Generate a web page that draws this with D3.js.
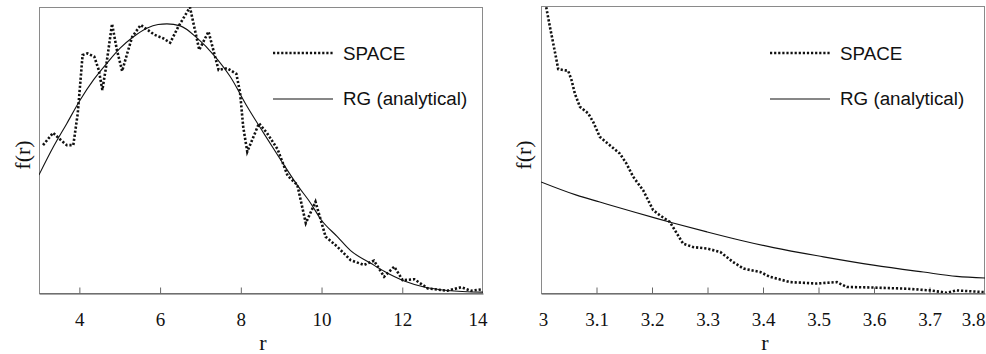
<!DOCTYPE html>
<html>
<head>
<meta charset="utf-8">
<script src="https://cdn.jsdelivr.net/npm/d3@7"></script>
<style>
  html, body { margin: 0; padding: 0; background: #fff; }
  svg { display: block; }
</style>
</head>
<body>
<svg id="chart" width="986" height="354"></svg>
<script>
// ---------- DATA (f(r) in arbitrary units) ----------
const legendLabels = ["SPACE", "RG (analytical)"];
const xLabel = "r";
const yLabel = "f(r)";

// Left panel: r from 3 to 14
const leftTicks = [4, 6, 8, 10, 12, 14];
const leftSpaceR = [3.10, 3.35, 3.56, 3.69, 3.85, 3.96, 4.08, 4.20, 4.37, 4.48, 4.57, 4.65, 4.81, 4.93, 5.06, 5.19, 5.31, 5.52, 5.69, 5.86, 6.07, 6.25, 6.45, 6.74, 6.97, 7.20, 7.37, 7.45, 7.66, 7.89, 7.98, 8.06, 8.16, 8.45, 8.65, 8.91, 9.16, 9.40, 9.61, 9.85, 10.10, 10.39, 10.72, 11.05, 11.30, 11.55, 11.80, 12.01, 12.30, 12.63, 13.12, 13.46, 13.70, 13.99];
const leftSpaceF = [0.517, 0.560, 0.532, 0.517, 0.517, 0.628, 0.832, 0.838, 0.826, 0.780, 0.710, 0.780, 0.941, 0.850, 0.776, 0.840, 0.896, 0.937, 0.920, 0.903, 0.891, 0.875, 0.931, 0.999, 0.850, 0.914, 0.822, 0.780, 0.786, 0.766, 0.702, 0.580, 0.494, 0.593, 0.559, 0.503, 0.410, 0.378, 0.244, 0.319, 0.197, 0.162, 0.115, 0.098, 0.113, 0.057, 0.092, 0.045, 0.048, 0.016, 0.008, 0.020, 0.008, 0.013];
const leftRGR = [3.00, 3.36, 3.69, 4.02, 4.35, 4.68, 5.01, 5.34, 5.67, 5.95, 6.17, 6.50, 6.92, 7.33, 7.74, 8.16, 8.57, 8.99, 9.40, 9.73, 9.98, 10.39, 10.72, 11.22, 11.55, 12.05, 12.54, 13.12, 14.00];
const leftRGF = [0.413, 0.512, 0.593, 0.675, 0.745, 0.803, 0.856, 0.896, 0.926, 0.939, 0.941, 0.934, 0.891, 0.832, 0.756, 0.651, 0.558, 0.465, 0.377, 0.314, 0.258, 0.197, 0.148, 0.104, 0.076, 0.042, 0.021, 0.009, 0.003];

// Right panel: r from 3 to 3.8 (zoomed tail)
const rightTicks = [3, 3.1, 3.2, 3.3, 3.4, 3.5, 3.6, 3.7, 3.8];
const rightSpaceR = [3.008, 3.016, 3.022, 3.028, 3.031, 3.049, 3.055, 3.061, 3.070, 3.085, 3.094, 3.106, 3.124, 3.142, 3.154, 3.166, 3.184, 3.202, 3.214, 3.232, 3.245, 3.256, 3.274, 3.299, 3.323, 3.346, 3.365, 3.395, 3.413, 3.449, 3.497, 3.533, 3.551, 3.599, 3.659, 3.701, 3.731, 3.749, 3.800];
const rightSpaceF = [1.010, 0.928, 0.870, 0.811, 0.780, 0.774, 0.742, 0.695, 0.649, 0.626, 0.596, 0.544, 0.515, 0.486, 0.451, 0.405, 0.358, 0.289, 0.271, 0.248, 0.207, 0.172, 0.160, 0.155, 0.143, 0.108, 0.085, 0.073, 0.056, 0.038, 0.033, 0.038, 0.021, 0.019, 0.015, 0.009, 0.001, 0.009, 0.003];
const rightRGR = [3.000, 3.064, 3.106, 3.166, 3.208, 3.238, 3.299, 3.359, 3.419, 3.509, 3.599, 3.689, 3.749, 3.800];
const rightRGF = [0.387, 0.341, 0.317, 0.283, 0.260, 0.244, 0.213, 0.184, 0.158, 0.126, 0.097, 0.073, 0.058, 0.052];

// ---------- LAYOUT ----------
const svg = d3.select("#chart");
const serif = "'Liberation Serif', 'DejaVu Serif', serif";
const sans = "'Liberation Sans', Arial, sans-serif";

const panels = [
  { id: "L", x0: 39, x1: 483, y0: 7, y1: 293, domain: [3, 14], ticks: leftTicks,
    space: leftSpaceR.map((r, i) => [r, leftSpaceF[i]]),
    rg: leftRGR.map((r, i) => [r, leftRGF[i]]),
    ylabX: 22, legX: 273, legX1: 333, legText: 343, firstDx: 0, lastDx: 4 },
  { id: "R", x0: 541, x1: 985, y0: 6, y1: 293, domain: [3, 3.8], ticks: rightTicks,
    space: rightSpaceR.map((r, i) => [r, rightSpaceF[i]]),
    rg: rightRGR.map((r, i) => [r, rightRGF[i]]),
    ylabX: 523, legX: 770, legX1: 830, legText: 840, firstDx: 2, lastDx: 0 }
];

panels.forEach(p => {
  const x = d3.scaleLinear().domain(p.domain).range([p.x0, p.x1]);
  const y = d3.scaleLinear().domain([0, 1]).range([p.y1, p.y0]);
  const g = svg.append("g");

  g.append("clipPath").attr("id", "clip" + p.id)
    .append("rect").attr("x", p.x0).attr("y", p.y0)
    .attr("width", p.x1 - p.x0).attr("height", p.y1 - p.y0);

  // frame
  g.append("rect").attr("x", p.x0 + 0.5).attr("y", p.y0 + 0.5)
    .attr("width", p.x1 - p.x0 - 1).attr("height", p.y1 - p.y0)
    .attr("fill", "none").attr("stroke", "#8a8a8a").attr("stroke-width", 1);

  // bottom axis
  const axis = d3.axisBottom(x).tickValues(p.ticks)
    .tickFormat(d => d3.format("~g")(d))
    .tickSizeInner(-6).tickSizeOuter(0).tickPadding(0);
  const ax = g.append("g").attr("transform", `translate(0,${p.y1 + 0.5})`).call(axis);
  ax.select(".domain").attr("stroke", "#555").attr("stroke-width", 1.2);
  ax.selectAll(".tick line").attr("stroke", "#666");
  const last = p.ticks[p.ticks.length - 1];
  const first = p.ticks[0];
  ax.selectAll(".tick line").filter(d => d === last || d === p.domain[0]).remove();
  ax.selectAll(".tick text")
    .attr("font-family", serif).attr("font-size", 19).attr("fill", "#111")
    .attr("y", 32).attr("dy", null)
    .attr("text-anchor", d => d === last ? "end" : "middle")
    .attr("dx", d => d === last ? p.lastDx : (d === first && d === p.domain[0] ? p.firstDx : 0));

  // axis titles
  g.append("text").attr("x", (p.x0 + p.x1) / 2 + 2).attr("y", 350)
    .attr("text-anchor", "middle").attr("font-family", serif).attr("font-size", 22)
    .attr("fill", "#111").text(xLabel);
  g.append("text").attr("transform", `translate(${p.ylabX},${155}) rotate(-90)`)
    .attr("text-anchor", "middle").attr("dominant-baseline", "central")
    .attr("font-family", serif).attr("font-size", 22).attr("fill", "#111").text(yLabel);

  // curves
  const line = d3.line().x(d => x(d[0])).y(d => y(d[1]));
  g.append("path").datum(p.rg)
    .attr("clip-path", `url(#clip${p.id})`)
    .attr("d", line.curve(d3.curveMonotoneX))
    .attr("fill", "none").attr("stroke", "#111").attr("stroke-width", 1.1);
  g.append("path").datum(p.space)
    .attr("clip-path", `url(#clip${p.id})`)
    .attr("d", d3.line().x(d => x(d[0])).y(d => y(d[1]))(p.space))
    .attr("fill", "none").attr("stroke", "#111").attr("stroke-width", 2.6)
    .attr("stroke-dasharray", "2.2,1.9");

  // legend
  const leg = g.append("g");
  leg.append("line").attr("x1", p.legX).attr("x2", p.legX1).attr("y1", 53).attr("y2", 53)
    .attr("stroke", "#111").attr("stroke-width", 2.6).attr("stroke-dasharray", "2.2,1.9");
  leg.append("line").attr("x1", p.legX).attr("x2", p.legX1).attr("y1", 99).attr("y2", 99)
    .attr("stroke", "#111").attr("stroke-width", 1.1);
  leg.append("text").attr("x", p.legText).attr("y", 59.8)
    .attr("font-family", sans).attr("font-size", 18.8).attr("fill", "#111").text(legendLabels[0]);
  leg.append("text").attr("x", p.legText).attr("y", 105.3)
    .attr("font-family", sans).attr("font-size", 18.8).attr("fill", "#111").text(legendLabels[1]);
});
</script>
</body>
</html>
